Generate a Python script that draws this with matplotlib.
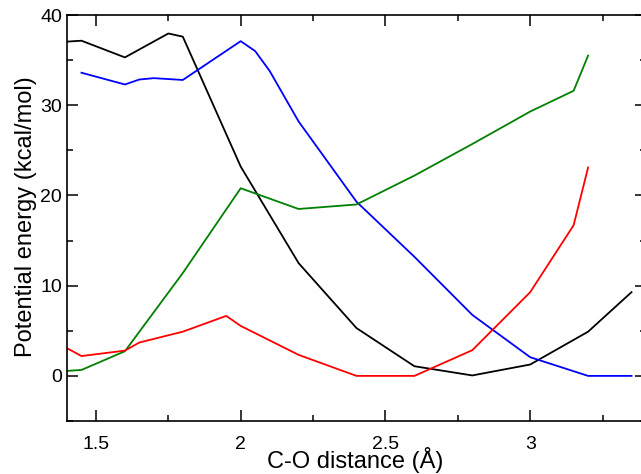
import matplotlib
matplotlib.use('Agg')
import matplotlib.pyplot as plt
from matplotlib.ticker import MultipleLocator

plt.rcParams['font.family'] = ['Liberation Sans', 'DejaVu Sans']

# C-O distance (A) and potential energy (kcal/mol) for each curve
black_x = [1.40, 1.45, 1.60, 1.75, 1.80, 2.00, 2.20, 2.40, 2.60, 2.80, 3.00, 3.20, 3.35]
black_y = [37.05, 37.15, 35.3, 37.95, 37.6, 23.2, 12.5, 5.3, 1.07, 0.05, 1.26, 4.9, 9.28]

blue_x = [1.45, 1.60, 1.65, 1.70, 1.80, 2.00, 2.05, 2.10, 2.20, 2.40, 2.60, 2.80, 3.00, 3.20, 3.35]
blue_y = [33.6, 32.3, 32.85, 33.0, 32.8, 37.1, 36.0, 33.8, 28.2, 19.3, 13.2, 6.76, 2.07, 0.0, 0.0]

green_x = [1.40, 1.45, 1.60, 1.80, 2.00, 2.20, 2.40, 2.60, 2.80, 3.00, 3.15, 3.20]
green_y = [0.55, 0.66, 2.73, 11.4, 20.8, 18.5, 19.0, 22.2, 25.7, 29.3, 31.6, 35.5]

red_x = [1.40, 1.45, 1.60, 1.65, 1.80, 1.95, 2.00, 2.20, 2.40, 2.60, 2.80, 3.00, 3.15, 3.20]
red_y = [3.07, 2.2, 2.8, 3.7, 4.9, 6.65, 5.54, 2.33, 0.0, 0.0, 2.85, 9.28, 16.7, 23.1]

fig = plt.figure(figsize=(6.41, 4.74), dpi=100)
ax = fig.add_axes([67 / 641, 53 / 474, 579 / 641, 406 / 474])

lw = 1.3
ax.plot(black_x, black_y, color='black', lw=lw)
ax.plot(blue_x, blue_y, color='#0000ff', lw=lw)
ax.plot(green_x, green_y, color='#008000', lw=lw)
ax.plot(red_x, red_y, color='#ff0000', lw=lw)

ax.set_xlim(1.4, 3.4)
ax.set_ylim(-5, 40)
ax.xaxis.set_major_locator(MultipleLocator(0.5))
ax.xaxis.set_minor_locator(MultipleLocator(0.25))
ax.yaxis.set_major_locator(MultipleLocator(10))
ax.yaxis.set_minor_locator(MultipleLocator(5))
ax.set_xticks([1.5, 2, 2.5, 3])
ax.set_xticklabels(['1.5', '2', '2.5', '3'])
ax.tick_params(which='both', direction='in', top=True, right=True, labelsize=14, width=1.1)
ax.tick_params(which='major', length=8)
ax.tick_params(which='minor', length=4.5)
ax.tick_params(axis='x', pad=11)
ax.tick_params(axis='y', pad=3.5)
for s in ax.spines.values():
    s.set_linewidth(1.2)

# the x label sits on the bottom edge, like in the original figure
ax.set_xlabel('C-O distance (Å)', fontsize=17, va='baseline')
ax.set_ylabel('Potential energy (kcal/mol)', fontsize=17)
ax.xaxis.set_label_coords(0.4985, -0.116)
ax.yaxis.set_label_coords(-0.052, 0.503)

fig.savefig('out.png', dpi=100)
